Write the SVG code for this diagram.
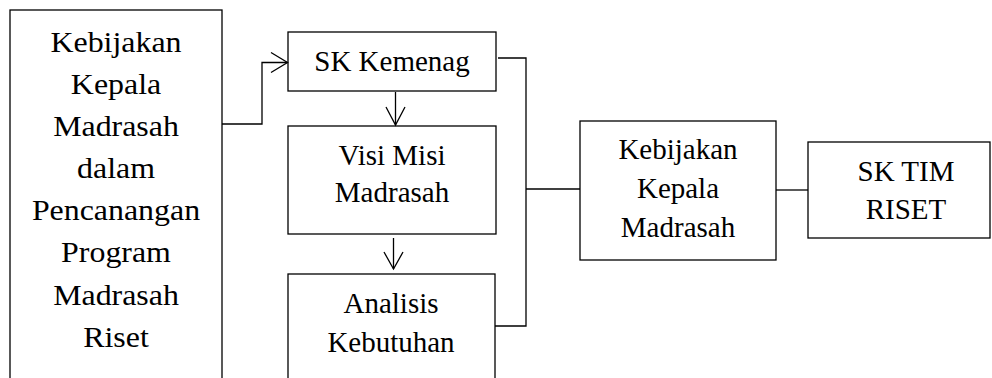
<svg xmlns="http://www.w3.org/2000/svg" width="992" height="378" viewBox="0 0 992 378">
<style>
.box{fill:#fff;stroke:#000;stroke-width:1.3}
.t{font-family:"Liberation Serif","Times New Roman",serif;font-size:29px;fill:#000;text-anchor:middle}
.c{fill:none;stroke:#000;stroke-width:1.3}
</style>
<rect width="992" height="378" fill="#fff"/>
<g id="node-left">
<rect class="box" x="10" y="10" width="212" height="380"/>
<g transform="translate(116,0) scale(1.1,1) translate(-116,0)">
<text class="t" x="116" y="52">Kebijakan</text>
<text class="t" x="116" y="94">Kepala</text>
<text class="t" x="116" y="136">Madrasah</text>
<text class="t" x="116" y="178">dalam</text>
<text class="t" x="116" y="220">Pencanangan</text>
<text class="t" x="116" y="262">Program</text>
<text class="t" x="116" y="305">Madrasah</text>
<text class="t" x="116" y="347">Riset</text>
</g>
</g>
<g id="node-skkemenag">
<rect class="box" x="288" y="32" width="208" height="59"/>
<text class="t" x="392" y="71">SK Kemenag</text>
</g>
<g id="node-visimisi">
<rect class="box" x="288" y="126" width="208" height="108"/>
<text class="t" x="392" y="165">Visi Misi</text>
<text class="t" x="392" y="202">Madrasah</text>
</g>
<g id="node-analisis">
<rect class="box" x="288" y="274" width="207" height="120"/>
<text class="t" x="391" y="313">Analisis</text>
<text class="t" x="391" y="352">Kebutuhan</text>
</g>
<g id="node-kebijakan">
<rect class="box" x="580" y="121" width="196" height="139"/>
<text class="t" x="678" y="159">Kebijakan</text>
<text class="t" x="678" y="198">Kepala</text>
<text class="t" x="678" y="237">Madrasah</text>
</g>
<g id="node-sktim">
<rect class="box" x="808" y="142" width="182" height="96"/>
<text class="t" x="906" y="181">SK TIM</text>
<text class="t" x="906" y="219">RISET</text>
</g>
<g id="connectors">
<path class="c" d="M222,124 H262 V62.5 H287.5"/>
<path class="c" d="M271,52.5 L287.5,62.5 L271,72.5"/>
<path class="c" d="M395.5,92 V125"/>
<path class="c" d="M386,107 L395.5,125 L405,107"/>
<path class="c" d="M393.5,238 V269"/>
<path class="c" d="M384,252 L393.5,269 L403,252"/>
<path class="c" d="M498,58 H526 V326 H495"/>
<path class="c" d="M526,189 H580"/>
<path class="c" d="M776,190 H808"/>
</g>
</svg>
